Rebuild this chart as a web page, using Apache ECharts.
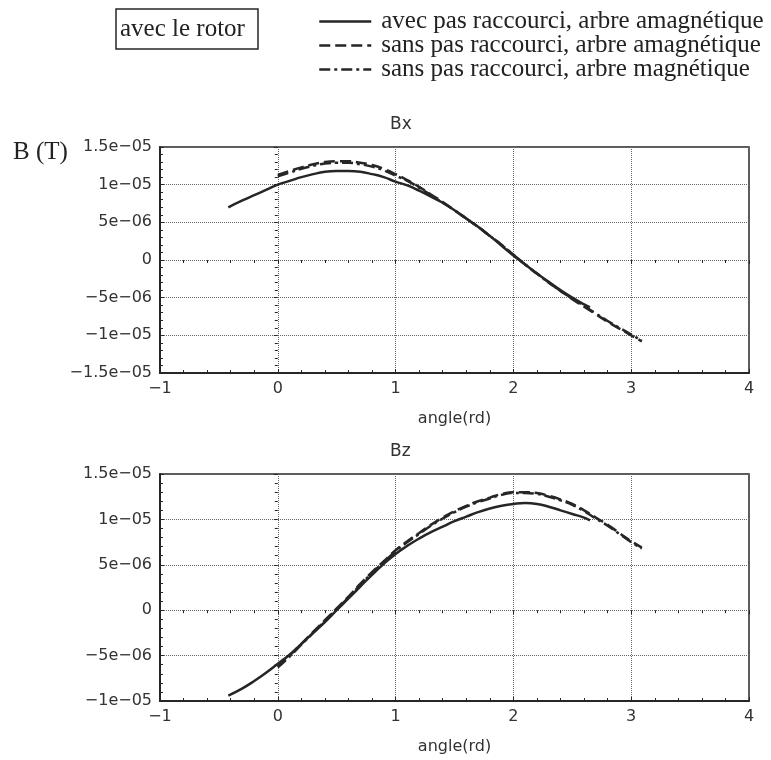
<!DOCTYPE html>
<html>
<head>
<meta charset="utf-8">
<script src="https://cdn.jsdelivr.net/npm/echarts@6/dist/echarts.min.js"></script>
<style>html,body{margin:0;padding:0;background:#fff}#c{width:771px;height:760px}</style>
</head>
<body>
<div id="c"></div>
<script>
// ---- data (B in units of 1e-6 T, angle in rad) ----
var seriesNames = ['avec pas raccourci, arbre amagnétique', 'sans pas raccourci, arbre amagnétique', 'sans pas raccourci, arbre magnétique'];
var angSolid = [-0.42, -0.3, -0.2, -0.1, 0.0, 0.1, 0.2, 0.3, 0.4, 0.5, 0.6, 0.7, 0.8, 0.9, 1.0, 1.1, 1.2, 1.3, 1.4, 1.5, 1.6, 1.7, 1.8, 1.9, 2.0, 2.1, 2.2, 2.3, 2.4, 2.5, 2.6, 2.65];
var angSans = [0.0, 0.1, 0.2, 0.3, 0.4, 0.5, 0.6, 0.7, 0.8, 0.9, 1.0, 1.1, 1.2, 1.3, 1.4, 1.5, 1.6, 1.7, 1.8, 1.9, 2.0, 2.1, 2.2, 2.3, 2.4, 2.5, 2.6, 2.7, 2.8, 2.9, 3.0, 3.09];
var bxAvecAmag = [7.0, 7.9, 8.6, 9.3, 10.0, 10.5, 11.0, 11.4, 11.7, 11.8, 11.8, 11.7, 11.4, 11.0, 10.4, 9.9, 9.2, 8.4, 7.6, 6.6, 5.5, 4.4, 3.2, 1.9, 0.6, -0.6, -1.8, -2.9, -4.0, -5.0, -5.9, -6.3];
var bxSansAmag = [11.3, 11.8, 12.3, 12.7, 13.0, 13.1, 13.1, 12.9, 12.6, 12.1, 11.4, 10.6, 9.7, 8.7, 7.7, 6.6, 5.5, 4.4, 3.2, 2.0, 0.7, -0.6, -1.8, -3.0, -4.1, -5.2, -6.2, -7.2, -8.2, -9.1, -10.0, -10.8];
var bxSansMag = [11.1, 11.6, 12.1, 12.5, 12.8, 12.9, 12.9, 12.7, 12.4, 11.9, 11.2, 10.5, 9.6, 8.6, 7.6, 6.6, 5.5, 4.4, 3.2, 2.0, 0.7, -0.6, -1.8, -3.0, -4.1, -5.1, -6.1, -7.1, -8.1, -9.0, -9.9, -10.7];
var bzAvecAmag = [-9.4, -8.6, -7.8, -6.9, -5.9, -4.9, -3.7, -2.5, -1.3, 0.0, 1.3, 2.6, 3.9, 5.1, 6.2, 7.1, 7.9, 8.6, 9.2, 9.8, 10.3, 10.8, 11.2, 11.5, 11.7, 11.8, 11.7, 11.4, 11.0, 10.6, 10.2, 9.9];
var bzSansAmag = [-6.2, -5.0, -3.7, -2.4, -1.1, 0.2, 1.5, 2.9, 4.2, 5.4, 6.6, 7.6, 8.5, 9.4, 10.2, 10.9, 11.5, 12.0, 12.4, 12.8, 13.0, 13.0, 12.9, 12.6, 12.2, 11.7, 11.0, 10.2, 9.4, 8.5, 7.6, 6.9];
var bzSansMag = [-6.3, -5.1, -3.8, -2.5, -1.2, 0.1, 1.4, 2.8, 4.1, 5.3, 6.5, 7.5, 8.4, 9.3, 10.1, 10.8, 11.4, 11.9, 12.3, 12.7, 12.9, 12.9, 12.8, 12.5, 12.1, 11.6, 10.9, 10.1, 9.3, 8.4, 7.5, 6.8];
var xTickValues = [-1, 0, 1, 2, 3, 4];
var xTickLabels = ['−1', '0', '1', '2', '3', '4'];
var yTickValues = [-15, -10, -5, 0, 5, 10, 15];
var yTickLabels = ['−1.5e−05', '−1e−05', '−5e−06', '0', '5e−06', '1e−05', '1.5e−05'];

function zip(xs, ys) { return xs.map(function (x, i) { return [x, ys[i]]; }); }
function lookup(vals, labels) {
  return function (v) {
    for (var i = 0; i < vals.length; i++) if (Math.abs(vals[i] - v) < 1e-9) return labels[i];
    return '';
  };
}

var ink = '#262626';
var sansFont = 'DejaVu Sans';
var serifFont = 'Liberation Serif';
var dashStyles = ['solid', [11, 5], [11, 4, 3, 4]];

function xAxes(gi) {
  return [{
    gridIndex: gi, type: 'value', min: -1, max: 4, interval: 1, position: 'bottom',
    name: 'angle(rd)', nameLocation: 'middle', nameGap: 38,
    nameTextStyle: { fontFamily: sansFont, fontSize: 16, color: '#333' },
    axisLine: { show: true, onZero: false, lineStyle: { color: ink, width: 2 } },
    axisTick: { show: true, inside: true, length: 4, lineStyle: { color: ink } },
    minorTick: { show: true, splitNumber: 5, length: 3, lineStyle: { color: ink } },
    axisLabel: { fontFamily: sansFont, fontSize: 16, color: '#333', formatter: lookup(xTickValues, xTickLabels) },
    splitLine: { show: true, lineStyle: { color: '#666', type: 'dotted', width: 1 } }
  }, {
    gridIndex: gi, type: 'value', min: -1, max: 4, interval: 1, position: 'top',
    axisLine: { show: false }, axisLabel: { show: false }, splitLine: { show: false },
    axisTick: { show: true, inside: true, length: 4, lineStyle: { color: ink } },
    minorTick: { show: true, splitNumber: 5, length: 3, lineStyle: { color: ink } }
  }];
}
function yAxes(gi, min, max) {
  return [{
    gridIndex: gi, type: 'value', min: min, max: max, interval: 5, position: 'left',
    axisLine: { show: true, onZero: false, lineStyle: { color: ink, width: 2 } },
    axisTick: { show: true, inside: true, length: 4, lineStyle: { color: ink } },
    minorTick: { show: true, splitNumber: 5, length: 3, lineStyle: { color: ink } },
    axisLabel: { fontFamily: sansFont, fontSize: 16, color: '#333', formatter: lookup(yTickValues, yTickLabels) },
    splitLine: { show: true, lineStyle: { color: '#666', type: 'dotted', width: 1 } }
  }, {
    gridIndex: gi, type: 'value', min: min, max: max, interval: 5, position: 'right',
    axisLine: { show: false }, axisLabel: { show: false }, splitLine: { show: false },
    axisTick: { show: true, inside: true, length: 4, lineStyle: { color: ink } },
    minorTick: { show: true, splitNumber: 5, length: 3, lineStyle: { color: ink } }
  }];
}
function mkSeries(name, xs, ys, k, axisIdx) {
  return {
    name: name, type: 'line', xAxisIndex: axisIdx, yAxisIndex: axisIdx,
    data: zip(xs, ys), showSymbol: false, symbol: 'none', smooth: true,
    lineStyle: { color: ink, width: 2.5, type: dashStyles[k] }, itemStyle: { color: ink },
    z: 3 - k
  };
}

var chart = echarts.init(document.getElementById('c'), null, { renderer: 'canvas' });
chart.setOption({
  animation: false,
  backgroundColor: '#fff',
  title: [
    { text: 'avec le rotor', left: 116, top: 9, padding: [7, 13, 7, 4], borderColor: ink, borderWidth: 1.5,
      textStyle: { fontFamily: serifFont, fontSize: 25, fontWeight: 'normal', color: '#222', lineHeight: 26 } },
    { text: 'B (T)', left: 13, top: 140, padding: 0,
      textStyle: { fontFamily: serifFont, fontSize: 25, fontWeight: 'normal', color: '#222' } },
    { text: 'Bx', left: 390, top: 116, padding: 0,
      textStyle: { fontFamily: sansFont, fontSize: 17, fontWeight: 'normal', color: '#333' } },
    { text: 'Bz', left: 390, top: 443, padding: 0,
      textStyle: { fontFamily: sansFont, fontSize: 17, fontWeight: 'normal', color: '#333' } }
  ],
  legend: {
    data: seriesNames, orient: 'vertical', left: 318, top: 9, padding: 0,
    itemWidth: 52, itemHeight: 12, itemGap: -1,
    itemStyle: { opacity: 0 },
    lineStyle: { width: 2.5 },
    textStyle: { fontFamily: serifFont, fontSize: 25, color: '#222', padding: [0, 0, 0, 5] },
    selectedMode: false
  },
  grid: [
    { left: 160, top: 147, width: 589, height: 226, show: true, borderColor: ink, borderWidth: 1.5 },
    { left: 160, top: 474, width: 589, height: 227, show: true, borderColor: ink, borderWidth: 1.5 }
  ],
  xAxis: xAxes(0).concat(xAxes(1)),
  yAxis: yAxes(0, -15, 15).concat(yAxes(1, -10, 15)),
  series: [
    mkSeries(seriesNames[0], angSolid, bxAvecAmag, 0, 0),
    mkSeries(seriesNames[1], angSans, bxSansAmag, 1, 0),
    mkSeries(seriesNames[2], angSans, bxSansMag, 2, 0),
    mkSeries(seriesNames[0], angSolid, bzAvecAmag, 0, 2),
    mkSeries(seriesNames[1], angSans, bzSansAmag, 1, 2),
    mkSeries(seriesNames[2], angSans, bzSansMag, 2, 2)
  ]
});
</script>
</body>
</html>
